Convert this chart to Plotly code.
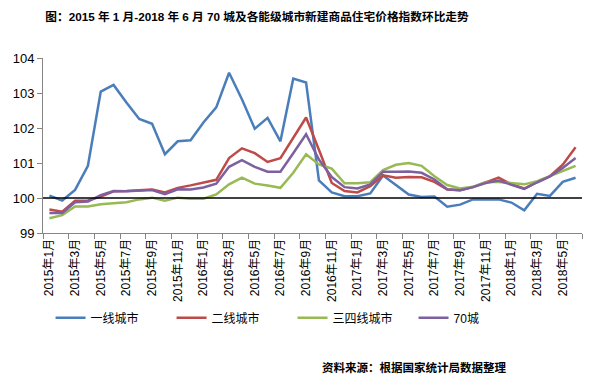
import plotly.graph_objects as go

months = [f"{y}年{m}月" for y in (2015, 2016, 2017, 2018) for m in range(1, 13)][:42]

tier1 = [100.07, 99.93, 100.23, 100.92, 103.04, 103.23, 102.73, 102.26, 102.12, 101.25,
         101.62, 101.65, 102.16, 102.59, 103.58, 102.82, 101.98, 102.29, 101.62, 103.41,
         103.30, 100.50, 100.16, 100.05, 100.05, 100.13, 100.64, 100.38, 100.10, 100.03,
         100.04, 99.75, 99.81, 99.96, 99.96, 99.96, 99.87, 99.65, 100.12, 100.06,
         100.46, 100.58]
tier2 = [99.67, 99.61, 99.92, 99.93, 100.04, 100.19, 100.20, 100.23, 100.24, 100.16,
         100.29, 100.36, 100.44, 100.52, 101.14, 101.42, 101.28, 101.03, 101.14, 101.72,
         102.30, 101.38, 100.43, 100.20, 100.16, 100.34, 100.65, 100.58, 100.60, 100.59,
         100.46, 100.24, 100.22, 100.31, 100.45, 100.58, 100.39, 100.27, 100.45, 100.62,
         100.95, 101.45]
tier34 = [99.42, 99.51, 99.76, 99.76, 99.82, 99.85, 99.88, 99.96, 100.01, 99.92,
          100.01, 99.98, 99.98, 100.10, 100.39, 100.58, 100.41, 100.36, 100.29, 100.72,
          101.25, 100.96, 100.84, 100.42, 100.42, 100.45, 100.80, 100.95, 101.00, 100.92,
          100.62, 100.37, 100.27, 100.32, 100.46, 100.46, 100.42, 100.39, 100.48, 100.62,
          100.76, 100.92]
city70 = [99.57, 99.57, 99.88, 99.90, 100.08, 100.20, 100.19, 100.22, 100.23, 100.11,
          100.25, 100.24, 100.30, 100.41, 100.89, 101.08, 100.89, 100.75, 100.75, 101.28,
          101.82, 101.10, 100.60, 100.31, 100.27, 100.39, 100.75, 100.75, 100.76, 100.72,
          100.53, 100.25, 100.22, 100.31, 100.43, 100.50, 100.39, 100.26, 100.45, 100.62,
          100.86, 101.14]

series_names = ["一线城市", "二线城市", "三四线城市", "70城"]
series_values = [tier1, tier2, tier34, city70]
colors = ["#4A7EBB", "#BE4B48", "#98B954", "#7D60A0"]

FONT = "Liberation Sans, Arial, Noto Sans CJK SC, sans-serif"

fig = go.Figure()
for name, vals, c in zip(series_names, series_values, colors):
    fig.add_trace(go.Scatter(x=months, y=vals, name=name, mode="lines",
                             line=dict(color=c, width=2.5)))

fig.add_shape(type="line", xref="paper", yref="y", x0=0, x1=1, y0=100, y1=100,
              line=dict(color="black", width=1.5))

fig.update_layout(
    width=589, height=379,
    margin=dict(l=43, r=7, t=58, b=146, autoexpand=False),
    paper_bgcolor="white", plot_bgcolor="white",
    font=dict(family=FONT, size=12, color="black"),
    title=dict(text="<b>图：2015 年 1 月-2018 年 6 月 70 城及各能级城市新建商品住宅价格指数环比走势</b>",
               xref="container", yref="container", x=257/589, xanchor="center",
               y=1-17/379, yanchor="middle",
               font=dict(family=FONT, size=11.7, color="black")),
    showlegend=True,
    legend=dict(orientation="h", x=0.014, xanchor="left", y=(233-318)/175.3, yanchor="middle",
                font=dict(family=FONT, size=12, color="black"),
                entrywidth=76, bgcolor="rgba(0,0,0,0)"),
    xaxis=dict(type="category", tickmode="linear", tick0=0, dtick=2, tickson="boundaries",
               tickangle=-90, ticks="outside", ticklen=5, tickcolor="#868686",
               showline=True, linecolor="#868686", linewidth=1, showgrid=False,
               range=[-0.5, 41.5], automargin=False,
               tickfont=dict(family=FONT, size=12, color="black")),
    yaxis=dict(range=[99, 104], tickvals=[99, 100, 101, 102, 103, 104],
               ticks="outside", ticklen=5, tickcolor="#868686",
               showline=True, linecolor="#868686", linewidth=1, showgrid=False,
               zeroline=False, automargin=False,
               tickfont=dict(family=FONT, size=13, color="black")),
)

fig.add_annotation(text="<b>资料来源：根据国家统计局数据整理</b>", xref="paper", yref="paper",
                   x=(508-43)/539, xanchor="right", y=(233-367.7)/175.3, yanchor="middle",
                   showarrow=False, font=dict(family=FONT, size=11.5, color="black"))

fig.write_html("out.html", config={"displayModeBar": False},
               post_script="document.body.style.margin='0';document.body.style.overflow='hidden';")
